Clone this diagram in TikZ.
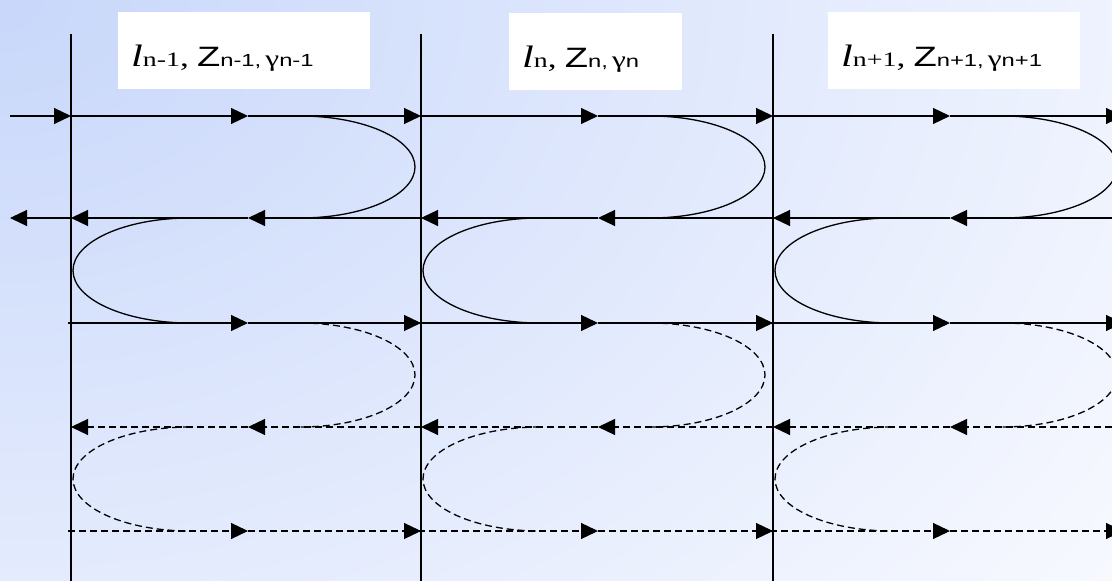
\documentclass[tikz,border=0pt]{standalone}
\usepackage{fontspec}
\setmainfont{Liberation Sans}
\newfontfamily\timesfam{Liberation Serif}
\usetikzlibrary{arrows.meta,positioning,calc}
\definecolor{bgblue}{HTML}{C8D7FA}
\definecolor{bgwhite}{HTML}{FAFBFF}

% l_n, Z_n, gamma_n label for one layer (the source text is set wide)
\newcommand{\layerlabel}[1]{\scalebox{1.36}[1]{%
  \scalebox{3.1}{\timesfam\itshape l}%
  \scalebox{2.05}{\timesfam #1}\scalebox{2.6}{\timesfam ,}\hspace{6pt}%
  \scalebox{2.8}{Z}%
  \scalebox{1.75}{#1,}\hspace{3pt}\scalebox{2.3}{\timesfam γ}\scalebox{1.75}{#1}}}

\begin{document}
\begin{tikzpicture}[x=1pt, y=1pt,
  ray/.style={line width=1.2pt, -{Triangle[length=17pt,width=16pt]}},
  dashray/.style={ray, dash pattern=on 7pt off 4pt},
  bounce/.style={line width=1.3pt},
  dashbounce/.style={bounce, dash pattern=on 7pt off 4pt},
  layerbox/.style={fill=white, anchor=north west, inner xsep=13pt, inner ysep=0pt,
    text height=54pt, text depth=23pt, align=left}]

  \useasboundingbox (0,0) rectangle (1112,581);
  \clip (0,0) rectangle (1112,581);
  \fill[bgwhite] (0,0) rectangle (1112,581);
  \shade[inner color=bgblue, outer color=bgwhite] (0,581) ellipse [x radius=1450, y radius=1050];

  % rows of the wave paths
  \coordinate (r1) at (0,465);
  \coordinate (r2) at (0,363);
  \coordinate (r3) at (0,258);
  \coordinate (r4) at (0,154);
  \coordinate (r5) at (0,50);

  % layer boundaries
  \foreach \x [count=\k] in {71,421,773} {
    \coordinate (top\k) at (\x,547);
    \draw[bounce] (top\k) -- (top\k |- 0,0);
  }

  % layer labels
  \node[layerbox, text width=226pt] (lay1) at (118,569) {\layerlabel{n-1}};
  \node[layerbox, text width=147pt] (lay2) at (509,568) {\layerlabel{n}};
  \node[layerbox, text width=226pt] (lay3) at (828,569) {\layerlabel{n+1}};

  % incoming and outgoing waves
  \coordinate (src) at (10,465);
  \coordinate (out) at (10,363);
  \draw[ray] (src) -- (src -| top1);
  \draw[ray] (out -| top1) -- (out);

  % multiple reflections inside each layer
  \foreach \X/\N in {71/421, 421/773, 773/1123} {
    \coordinate (L) at (\X,0);
    \coordinate (S) at (\X-3,0);
    \coordinate (M) at (\X+177,0);
    \coordinate (R) at (\N,0);
    % first pass
    \draw[ray] (L |- r1) -- (M |- r1);
    \draw[ray] (M |- r1) -- (R |- r1);
    \draw[ray] (R |- r2) -- (M |- r2);
    \draw[ray] (M |- r2) -- (L |- r2);
    \draw[ray] (S |- r3) -- (M |- r3);
    \draw[ray] (M |- r3) -- (R |- r3);
    \draw[bounce] (\X+229,465) arc[start angle=90, end angle=-90, x radius=115, y radius=51];
    \draw[bounce] (\X+119,363) arc[start angle=90, end angle=270, x radius=117, y radius=52.5];
    % second pass
    \draw[dashray] (R |- r4) -- (M |- r4);
    \draw[dashray] (M |- r4) -- (L |- r4);
    \draw[dashray] (S |- r5) -- (M |- r5);
    \draw[dashray] (M |- r5) -- (R |- r5);
    \draw[dashbounce] (\X+229,258) arc[start angle=90, end angle=-90, x radius=115, y radius=52];
    \draw[dashbounce] (\X+119,154) arc[start angle=90, end angle=270, x radius=117, y radius=52];
  }
\end{tikzpicture}
\end{document}
